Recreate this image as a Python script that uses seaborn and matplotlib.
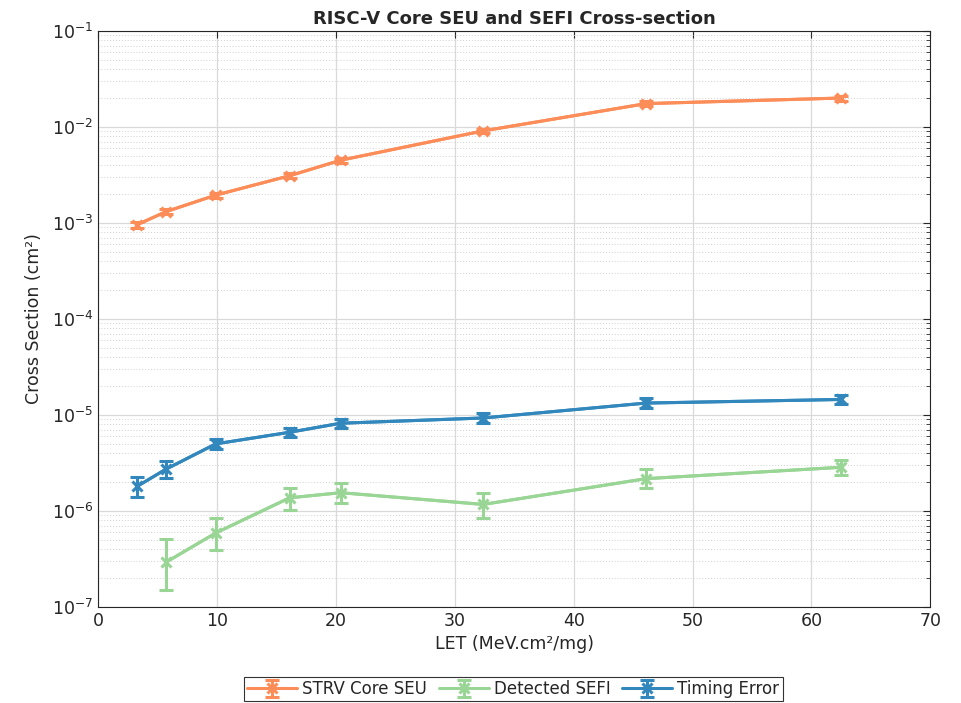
import numpy as np
import pandas as pd
import matplotlib
matplotlib.use("Agg")
import matplotlib.pyplot as plt
import matplotlib.ticker as mticker
import seaborn as sns

let = [3.3, 5.7, 9.9, 16.1, 20.4, 32.4, 46.1, 62.5]

seu = [0.96e-3, 1.31e-3, 1.95e-3, 3.1e-3, 4.5e-3, 9.1e-3, 1.75e-2, 2.0e-2]
seu_lo = [0.07e-3, 0.08e-3, 0.12e-3, 0.18e-3, 0.25e-3, 0.5e-3, 0.1e-2, 0.12e-2]
seu_hi = [0.07e-3, 0.08e-3, 0.12e-3, 0.18e-3, 0.25e-3, 0.5e-3, 0.1e-2, 0.12e-2]

sefi_let = [5.7, 9.9, 16.1, 20.4, 32.4, 46.1, 62.5]
sefi = [2.92e-7, 5.9e-7, 1.37e-6, 1.55e-6, 1.17e-6, 2.17e-6, 2.85e-6]
sefi_lo = [1.40e-7, 2.0e-7, 0.34e-6, 0.35e-6, 0.32e-6, 0.44e-6, 0.50e-6]
sefi_hi = [2.2e-7, 2.6e-7, 0.37e-6, 0.41e-6, 0.38e-6, 0.56e-6, 0.55e-6]

timing = [1.81e-6, 2.72e-6, 5.0e-6, 6.6e-6, 8.2e-6, 9.3e-6, 1.33e-5, 1.45e-5]
timing_lo = [0.40e-6, 0.49e-6, 0.6e-6, 0.7e-6, 0.85e-6, 1.1e-6, 0.16e-5, 0.15e-5]
timing_hi = [0.43e-6, 0.57e-6, 0.6e-6, 0.7e-6, 0.9e-6, 1.1e-6, 0.16e-5, 0.17e-5]

labels = ["STRV Core SEU", "Detected SEFI", "Timing Error"]
colors = ["#fc8d59", "#99d594", "#3288bd"]

sns.set_style("white")
plt.rcParams["font.family"] = ["DejaVu Sans"]

fig = plt.figure(figsize=(9.62, 7.03), dpi=100)
ax = fig.add_axes([0.102, 0.1366, 0.865, 0.8194])

series = [
    (let, seu, seu_lo, seu_hi),
    (sefi_let, sefi, sefi_lo, sefi_hi),
    (let, timing, timing_lo, timing_hi),
]
for (xs, ys, lo, hi), lab, col in zip(series, labels, colors):
    df = pd.DataFrame({"LET": xs, "CS": ys})
    sns.lineplot(data=df, x="LET", y="CS", ax=ax, color=col, lw=2.2,
                 legend=False, marker=None)
    ax.errorbar(xs, ys, yerr=[lo, hi], fmt="-x", color=col, lw=2.2,
                ms=7, mew=2.2, capsize=5, capthick=2.2, elinewidth=2.2,
                label=lab)

ax.set_yscale("log")
ax.set_xlim(0, 70)
ax.set_ylim(1e-7, 1e-1)
ax.set_xticks(range(0, 71, 10))
ax.yaxis.set_major_locator(mticker.LogLocator(base=10, numticks=10))
ax.yaxis.set_minor_locator(mticker.LogLocator(base=10, subs=np.arange(2, 10), numticks=20))

ax.grid(True, which="major", axis="both", color="#d9d9d9", lw=0.9, ls="-")
ax.grid(True, which="minor", axis="y", color="#d0d0d0", lw=0.7, ls=(0, (1, 2)))
ax.set_axisbelow(True)

ax.tick_params(which="both", direction="in", top=True, right=True,
               labelsize=12.5, colors="#262626")
ax.tick_params(which="major", length=5, width=0.8)
ax.tick_params(which="minor", length=3, width=0.6)
for s in ax.spines.values():
    s.set_color("#262626")
    s.set_linewidth(0.8)

ax.set_xlabel("LET (MeV.cm²/mg)", fontsize=12.5, color="#262626", labelpad=4)
ax.set_ylabel("Cross Section (cm²)", fontsize=12.5, color="#262626", labelpad=6)
ax.set_title("RISC-V Core SEU and SEFI Cross-section", fontsize=13,
             fontweight="bold", pad=5)

leg = ax.legend(loc="upper center", bbox_to_anchor=(0.499, -0.121), ncol=3,
                fontsize=12, frameon=True, fancybox=False, edgecolor="black",
                handlelength=3.0, columnspacing=0.7, handletextpad=0.3,
                borderpad=0.2, borderaxespad=0)
leg.get_frame().set_linewidth(0.8)

fig.savefig("out.png", dpi=100)
